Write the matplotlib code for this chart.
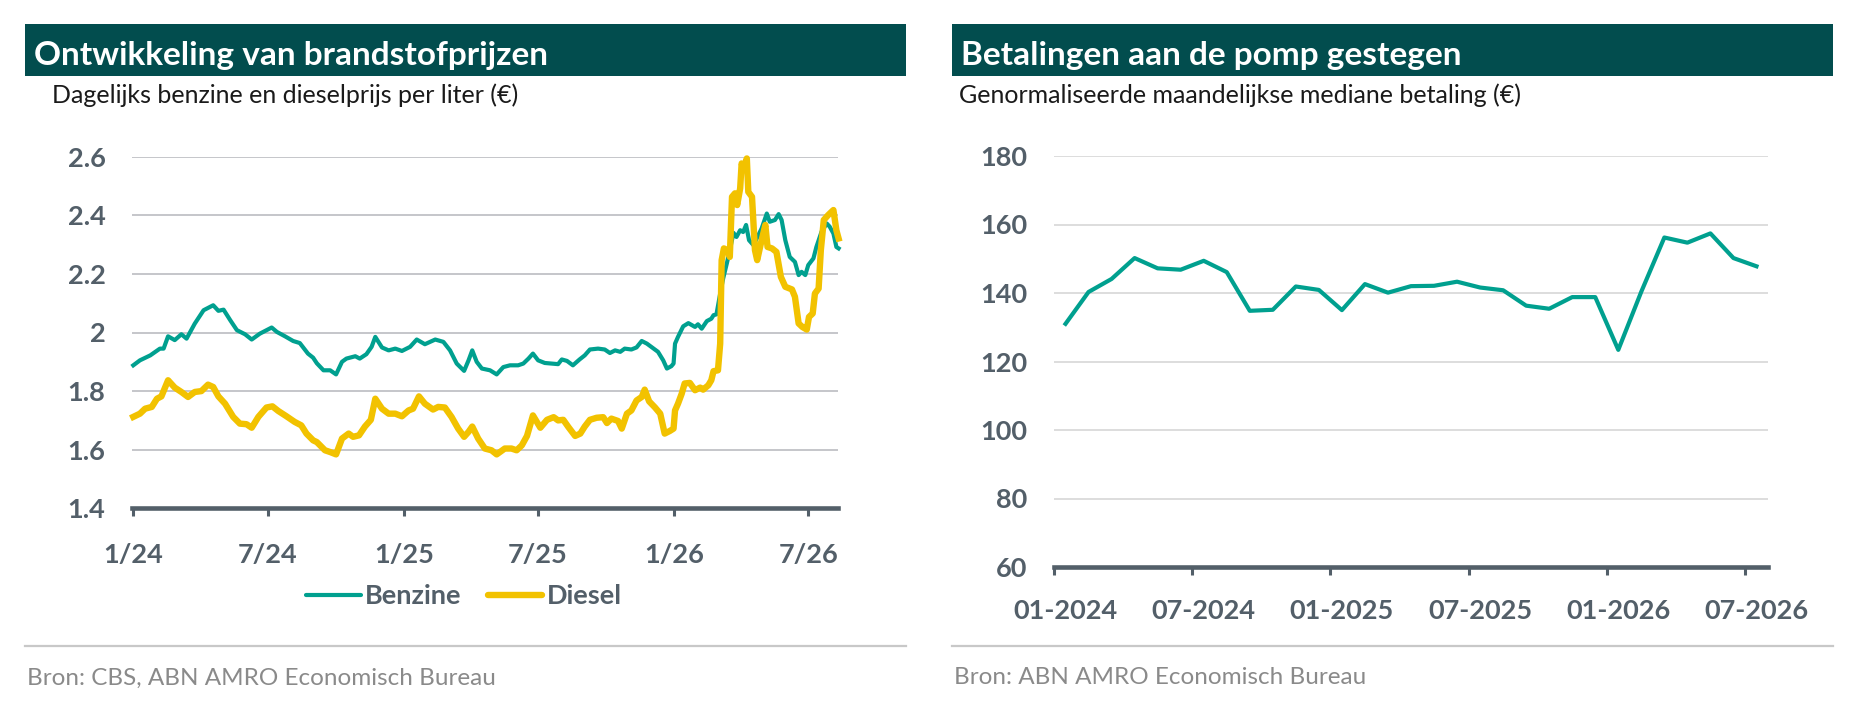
import matplotlib.pyplot as plt
from matplotlib.patches import Rectangle
from matplotlib.lines import Line2D
import pandas as pd

plt.rcParams['font.family'] = ['Lato', 'DejaVu Sans']

# --- linker grafiek: dagelijkse prijzen (dagen sinds 1-1-2024) ---
benzine_dag = [0, 9, 23, 36, 41, 47, 56, 65, 72, 83, 95, 108, 115, 122, 131, 140, 151, 160, 171, 187,
               194, 205, 216, 225, 236, 243, 248, 257, 266, 274, 282, 288, 300, 306, 315, 322, 327, 336,
               345, 354, 363, 374, 383, 394, 408, 419, 428, 437, 447, 453, 458, 464, 471, 482, 491, 500,
               509, 520, 527, 534, 540, 547, 556, 565, 574, 579, 586, 594, 603, 610, 617, 628, 637, 644,
               651, 658, 664, 673, 680, 687, 694, 703, 709, 716, 721, 727, 730, 732, 736, 743, 750, 759,
               763, 768, 775, 781, 784, 788, 793, 797, 802, 806, 811, 815, 820, 824, 828, 832, 838, 843,
               849, 856, 860, 867, 872, 876, 881, 887, 894, 899, 903, 908, 912, 919, 923, 930, 937, 941,
               946, 950, 953]
benzine = [1.888, 1.905, 1.922, 1.945, 1.945, 1.987, 1.974, 1.994, 1.979, 2.030, 2.076, 2.093, 2.074,
           2.078, 2.042, 2.008, 1.994, 1.976, 1.996, 2.017, 2.002, 1.987, 1.971, 1.964, 1.928, 1.914,
           1.895, 1.871, 1.871, 1.857, 1.900, 1.911, 1.919, 1.911, 1.926, 1.951, 1.985, 1.949, 1.939,
           1.945, 1.937, 1.951, 1.976, 1.960, 1.976, 1.968, 1.939, 1.894, 1.869, 1.905, 1.939, 1.900,
           1.877, 1.871, 1.857, 1.882, 1.888, 1.888, 1.894, 1.911, 1.928, 1.905, 1.896, 1.894, 1.892,
           1.908, 1.903, 1.888, 1.908, 1.922, 1.942, 1.945, 1.942, 1.930, 1.939, 1.934, 1.945, 1.942,
           1.949, 1.971, 1.962, 1.945, 1.934, 1.905, 1.877, 1.885, 1.894, 1.962, 1.985, 2.021, 2.032,
           2.019, 2.028, 2.013, 2.039, 2.047, 2.059, 2.062, 2.133, 2.184, 2.236, 2.281, 2.340, 2.326,
           2.349, 2.343, 2.367, 2.315, 2.298, 2.324, 2.355, 2.406, 2.378, 2.384, 2.404, 2.384, 2.315,
           2.258, 2.241, 2.196, 2.207, 2.196, 2.230, 2.253, 2.292, 2.344, 2.372, 2.361, 2.338, 2.292,
           2.287]

diesel_dag = [0, 9, 16, 25, 32, 38, 47, 56, 65, 74, 83, 92, 101, 108, 115, 124, 135, 144, 153, 160, 169,
              180, 188, 196, 207, 218, 227, 234, 243, 248, 259, 266, 274, 282, 291, 297, 305, 313, 321,
              327, 336, 345, 354, 363, 372, 378, 386, 394, 405, 412, 421, 430, 439, 447, 453, 458, 466,
              475, 484, 491, 502, 511, 518, 525, 532, 540, 550, 559, 568, 574, 581, 588, 597, 604, 610,
              617, 626, 635, 640, 646, 655, 660, 667, 673, 680, 687, 691, 697, 705, 712, 718, 725, 730,
              732, 736, 741, 745, 752, 759, 766, 770, 777, 781, 784, 790, 793, 795, 798, 803, 806, 809,
              813, 816, 820, 822, 825, 829, 831, 836, 840, 843, 848, 854, 857, 863, 869, 875, 881, 890,
              894, 899, 904, 910, 913, 918, 921, 926, 929, 933, 939, 946, 950, 953]
diesel = [1.712, 1.723, 1.740, 1.746, 1.774, 1.782, 1.837, 1.812, 1.797, 1.780, 1.797, 1.800, 1.822,
          1.814, 1.782, 1.757, 1.712, 1.689, 1.687, 1.675, 1.712, 1.744, 1.748, 1.732, 1.714, 1.695,
          1.683, 1.655, 1.632, 1.626, 1.598, 1.592, 1.584, 1.638, 1.655, 1.644, 1.649, 1.679, 1.702,
          1.774, 1.740, 1.723, 1.723, 1.714, 1.734, 1.740, 1.782, 1.757, 1.737, 1.746, 1.744, 1.712,
          1.672, 1.644, 1.661, 1.679, 1.638, 1.604, 1.598, 1.584, 1.604, 1.604, 1.598, 1.615, 1.647,
          1.717, 1.675, 1.702, 1.711, 1.700, 1.702, 1.677, 1.647, 1.655, 1.679, 1.702, 1.709, 1.711,
          1.691, 1.706, 1.698, 1.672, 1.723, 1.734, 1.768, 1.780, 1.805, 1.765, 1.744, 1.723, 1.655,
          1.664, 1.672, 1.734, 1.757, 1.791, 1.826, 1.828, 1.803, 1.812, 1.805, 1.820, 1.837, 1.868,
          1.871, 1.962, 2.247, 2.287, 2.281, 2.258, 2.463, 2.475, 2.435, 2.492, 2.577, 2.555, 2.594,
          2.480, 2.463, 2.281, 2.247, 2.304, 2.367, 2.292, 2.287, 2.275, 2.190, 2.156, 2.147, 2.122,
          2.031, 2.019, 2.010, 2.053, 2.065, 2.133, 2.150, 2.281, 2.384, 2.401, 2.418, 2.349, 2.321]

links_ticks = ['2024-01-01', '2024-07-01', '2025-01-01', '2025-07-01', '2026-01-01', '2026-07-01']
links_labels = ['1/24', '7/24', '1/25', '7/25', '1/26', '7/26']

# --- rechter grafiek: maandelijkse mediane betaling ---
maanden = pd.date_range('2024-01-01', periods=31, freq='MS')
betaling = [131.0, 140.3, 144.1, 150.2, 147.2, 146.8, 149.4, 146.1, 134.8, 135.1, 141.9, 140.9, 135.0,
            142.6, 140.1, 142.0, 142.1, 143.3, 141.6, 140.8, 136.3, 135.4, 138.8, 138.8, 123.4, 140.4,
            156.2, 154.7, 157.4, 150.2, 147.8]

# kleuren
donkergroen = '#024d4e'
groen = '#00a08f'
geel = '#f2c200'
asgrijs = '#535f69'
bron_grijs = '#8a8a8a'

fig = plt.figure(figsize=(18.51, 7.11), dpi=100)
W, H = 1851, 711

def px(x, y):
    return x / W, 1 - y / H

# koppen en bronvermelding
for x0, x1, titel, sub, bron, subx in [
        (25.4, 906, 'Ontwikkeling van brandstofprijzen', 'Dagelijks benzine en dieselprijs per liter (€)',
         'Bron: CBS, ABN AMRO Economisch Bureau', 52),
        (952.3, 1833, 'Betalingen aan de pomp gestegen', 'Genormaliseerde maandelijkse mediane betaling (€)',
         'Bron: ABN AMRO Economisch Bureau', 959)]:
    bx, by = px(x0, 75.5)
    fig.patches.append(Rectangle((bx, by), (x1 - x0) / W, 51.5 / H, transform=fig.transFigure,
                                 facecolor=donkergroen, edgecolor='none'))
    fig.text(*px(x0 + 9, 65.5), titel, color='white', fontsize=24, fontweight='bold', va='baseline')
    fig.text(*px(subx, 103), sub, color='#1a1a1a', fontsize=18, va='baseline')
    fig.lines.append(Line2D([x0 / W, x1 / W], [1 - 646 / H] * 2, transform=fig.transFigure,
                            color='#c8c8c8', lw=1.6))
    fig.text(*px(x0 + 1.5, 678), bron, color=bron_grijs, fontsize=17.5, va='center')

# linker as
ax1 = fig.add_axes([131.8 / W, 1 - 508.3 / H, 706.5 / W, 351.6 / H])
start = pd.Timestamp('2024-01-01')
d_b = start + pd.to_timedelta(benzine_dag, unit='D')
d_d = start + pd.to_timedelta(diesel_dag, unit='D')
ax1.plot(d_b, benzine, color=groen, lw=3.0, solid_joinstyle='round', zorder=3, label='Benzine', clip_on=False)
ax1.plot(d_d, diesel, color=geel, lw=4.6, solid_joinstyle='round', zorder=4, label='Diesel', clip_on=False)
ax1.set_xlim(start - pd.Timedelta(days=2), start + pd.Timedelta(days=952.6))
ax1.set_ylim(1.4, 2.6)
ax1.set_yticks([1.4, 1.6, 1.8, 2.0, 2.2, 2.4, 2.6])
ax1.set_yticklabels(['1.4', '1.6', '1.8', '2', '2.2', '2.4', '2.6'])
ax1.set_xticks(pd.to_datetime(links_ticks))
ax1.set_xticklabels(links_labels)

leg = ax1.legend(loc='center', bbox_to_anchor=px(464, 596), bbox_transform=fig.transFigure, ncol=2,
                 frameon=False, handlelength=2.0, handletextpad=0.15, columnspacing=1.0,
                 prop={'size': 19.5, 'weight': 'bold'})
for t in leg.get_texts():
    t.set_color(asgrijs)
for h in leg.get_lines():
    h.set_solid_capstyle('round')

# rechter as
ax2 = fig.add_axes([1054 / W, 1 - 567 / H, 714 / W, 411 / H])
xs = range(len(betaling))
ax2.plot(xs, betaling, color=groen, lw=3.0, solid_joinstyle='round', zorder=3)
ax2.set_xlim(-0.5, len(betaling) - 0.5)
ax2.set_ylim(60, 180)
ax2.set_yticks(range(60, 181, 20))
ax2.set_xticks([i - 0.5 for i in range(0, 31, 6)])
ax2.set_xticklabels([])
ax2.set_xticks(list(range(0, 31, 6)), minor=True)
ax2.set_xticklabels([maanden[i].strftime('%m-%Y') for i in range(0, 31, 6)], minor=True)

for ax, gridkleur in [(ax1, '#c5c6ca'), (ax2, '#dddddd')]:
    for s in ['top', 'right', 'left']:
        ax.spines[s].set_visible(False)
    ax.spines['bottom'].set_color(asgrijs)
    ax.spines['bottom'].set_linewidth(3.3)
    ax.spines['bottom'].set_zorder(5)
    ax.grid(axis='y', color=gridkleur, lw=1.4)
    ax.set_axisbelow(True)
    ax.tick_params(axis='y', length=0, pad=19, labelsize=19.5, labelcolor=asgrijs)
    ax.tick_params(axis='x', which='major', length=6, width=2.2, color=asgrijs, direction='out',
                   pad=19, labelsize=19.5, labelcolor=asgrijs)
    for lab in ax.get_yticklabels() + ax.get_xticklabels(which='both'):
        lab.set_fontweight('bold')

ax2.tick_params(axis='x', which='minor', length=0, pad=23, labelsize=19.5, labelcolor=asgrijs)
# gridlijn op de onderste waarde valt samen met de as
ax1.yaxis.get_gridlines()[0].set_visible(False)
ax2.yaxis.get_gridlines()[0].set_visible(False)

fig.savefig('out.png', dpi=100)
